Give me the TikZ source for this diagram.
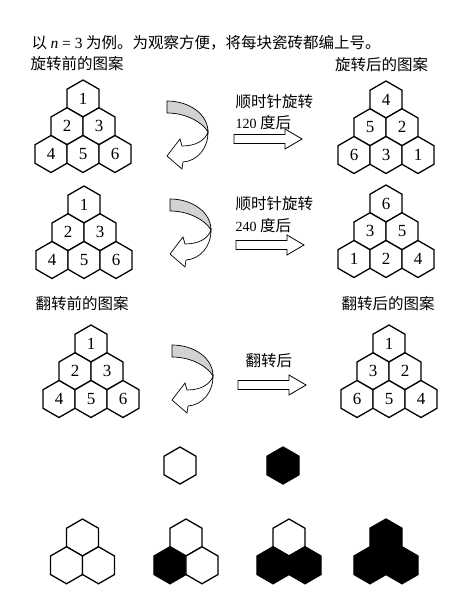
\documentclass[tikz,border=0pt]{standalone}
\usepackage{fontspec}
\setmainfont{Liberation Serif}
\newfontfamily\cjk{Noto Sans CJK SC}
\newcommand{\zh}{\cjk\fontsize{15.5}{18}\selectfont}
\newcommand{\B}{black}
\newcommand{\W}{white}
\newcommand{\hexR}{18.5}
\newcommand{\drawHex}[3]{
    \filldraw[fill=#3, shift={(#1,#2)}] (90:\hexR) -- (150:\hexR) -- (210:\hexR)
        -- (270:\hexR) -- (330:\hexR) -- (30:\hexR) -- cycle;
}
\newcommand{\drawTriangle}[9]{
    \drawHex{#2}{#3}{\W}
    \drawHex{#2-16}{#3+27.75}{\W}
    \drawHex{#2+16}{#3+27.75}{\W}
    \drawHex{#2-32}{#3+55.5}{\W}
    \drawHex{#2}{#3+55.5}{\W}
    \drawHex{#2+32}{#3+55.5}{\W}
    \node[num] (#1-1) at (#2,#3) {#4};
    \node[num] (#1-2) at (#2-16,#3+27.75) {#5};
    \node[num] (#1-3) at (#2+16,#3+27.75) {#6};
    \node[num] (#1-4) at (#2-32,#3+55.5) {#7};
    \node[num] (#1-5) at (#2,#3+55.5) {#8};
    \node[num] (#1-6) at (#2+32,#3+55.5) {#9};
}
\newcommand{\drawTurn}[2]{
    \begin{scope}[shift={(#1,#2)}, turn]
    \filldraw[fill=gray!35] (0,0) .. controls (22,0) and (41,13) .. (41,31)
        .. controls (36,22) and (20,12) .. (0,12) -- cycle;
    \filldraw[fill=white] (41,31) .. controls (38,40) and (28,45) .. (15,45)
        -- (13,38) -- (0,55) -- (15,68) -- (16,61)
        .. controls (30,60) and (41,48) .. (41,31) -- cycle;
    \end{scope}
}
\newcommand{\drawPush}[2]{
    \filldraw[fill=white, push, shift={(#1,#2)}] (0,-4.5) -- (51,-4.5) -- (51,-10)
        -- (68,0) -- (51,10) -- (51,4.5) -- (0,4.5) -- cycle;
}
\newcommand{\drawTrio}[5]{
    \drawHex{#1}{#2}{#3}
    \drawHex{#1-16}{#2+27.75}{#4}
    \drawHex{#1+16}{#2+27.75}{#5}
}

\begin{document}
\begin{tikzpicture}[x=1pt, y=-1pt, line width=1.3pt,
    num/.style={font=\fontsize{17}{20}\selectfont, inner sep=0pt},
    caption/.style={font=\zh, inner sep=0pt},
    turn/.style={line width=0.7pt},
    push/.style={line width=0.8pt}]
\useasboundingbox (0,0) rectangle (467,608);

% Introduction and titles
\node[caption, anchor=west] (intro) at (31,43)
    {以 {\rmfamily\itshape n\upshape\ =\ 3} 为例。为观察方便，将每块瓷砖都编上号。};
\node[caption, anchor=west] (rotBefore) at (30,64) {旋转前的图案};
\node[caption] (rotAfter) at (381.5,65) {旋转后的图案};

% Clockwise by 120 degrees
\drawTriangle{a}{83}{98.5}{1}{2}{3}{4}{5}{6}
\drawTurn{167}{101}
\node[caption, anchor=west] (a-turn) at (235,102) {顺时针旋转};
\node[anchor=west, inner sep=0pt, font=\fontsize{14}{16}\selectfont] (a-deg) at (235,123) {120 {\zh 度后}};
\drawPush{234}{139}
\drawTriangle{b}{386}{99.5}{4}{5}{2}{6}{3}{1}

% Clockwise by 240 degrees
\drawTriangle{c}{84}{204.5}{1}{2}{3}{4}{5}{6}
\drawTurn{170}{199}
\node[caption, anchor=west] (c-turn) at (235,204) {顺时针旋转};
\node[anchor=west, inner sep=0pt, font=\fontsize{14}{16}\selectfont] (c-deg) at (235,226) {240 {\zh 度后}};
\drawPush{236}{245}
\drawTriangle{d}{386}{203.5}{6}{3}{5}{1}{2}{4}

% Flip
\node[caption] (flipBefore) at (82,304) {翻转前的图案};
\node[caption] (flipAfter) at (388,304) {翻转后的图案};
\drawTriangle{e}{91}{343.5}{1}{2}{3}{4}{5}{6}
\drawTurn{172}{345}
\node[caption, anchor=west] (e-flip) at (245,361) {翻转后};
\drawPush{238}{385}
\drawTriangle{f}{389}{343.5}{1}{3}{2}{6}{5}{4}

% One tile, two colours
\drawHex{180}{465.5}{\W}
\drawHex{283}{465.5}{\B}

% Three tiles
\drawTrio{82.5}{537.5}{\W}{\W}{\W}
\drawTrio{186}{537.5}{\W}{\B}{\W}
\drawTrio{289}{537.5}{\W}{\B}{\B}
\drawTrio{386}{537.5}{\B}{\B}{\B}

\end{tikzpicture}
\end{document}
